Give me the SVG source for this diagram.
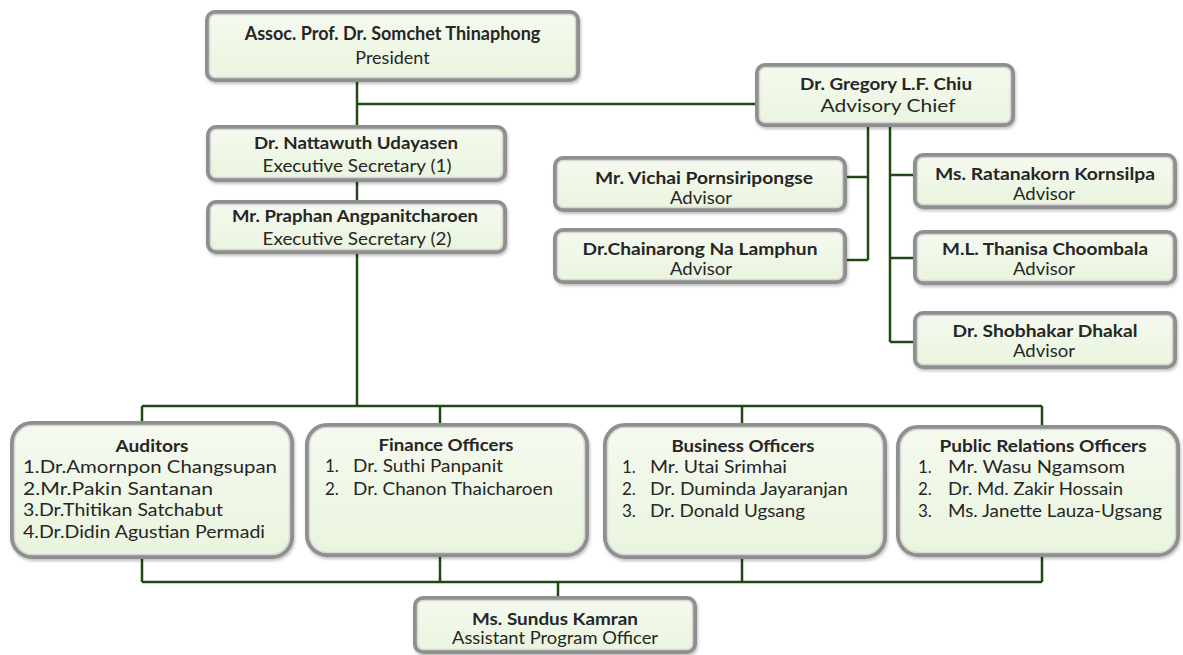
<svg xmlns="http://www.w3.org/2000/svg" width="1183" height="655" viewBox="0 0 1183 655">
<style>
.box{fill:url(#fillg);stroke:#8f8f8f;stroke-width:4;filter:url(#sh)}
.in{fill:none;stroke:#d6d6d6;stroke-width:1.5}
.t{font-family:Lato,"Open Sans","Liberation Sans",sans-serif;font-size:17px;fill:#262626;text-anchor:middle}
.b{font-weight:bold}
.l{text-anchor:start}
.c{stroke:#1f4a16;stroke-width:2.5;fill:none}
</style>
<defs>
<linearGradient id="fillg" x1="0" y1="0" x2="0" y2="1">
<stop offset="0" stop-color="#f5faef"/>
<stop offset="1" stop-color="#e9f4de"/>
</linearGradient>
<filter id="sh" x="-5%" y="-10%" width="110%" height="125%">
<feDropShadow dx="1" dy="2" stdDeviation="1.5" flood-color="#000" flood-opacity="0.25"/>
</filter>
</defs>
<rect width="1183" height="655" fill="#ffffff"/>

<g id="connectors">
<path class="c" d="M357 80V127M357 104H757M357 180V202M357 252V406M142 406H1042M142 406V423M440 406V425M742 406V425M1042 406V427"/>
<path class="c" d="M142 557V582M440 555V582M742 557V582M1042 555V582M142 582H1042M558 582V598"/>
<path class="c" d="M868 125V260M845 177H868M845 260H868M890 125V342M890 175H915M890 258H915M890 342H915"/>
</g>

<g id="president">
<rect class="box" x="207" y="12" width="371" height="68" rx="8"/>
<rect class="in" x="209.5" y="14.5" width="366" height="63" rx="6"/>
<text class="t b" x="392.5" y="40" style="font-size:18px">Assoc. Prof. Dr. Somchet Thinaphong</text>
<text class="t" x="392.5" y="64" style="font-size:18px">President</text>
</g>

<g id="advisory-chief">
<rect class="box" x="757" y="65" width="256" height="60" rx="8"/>
<rect class="in" x="759.5" y="67.5" width="251" height="55" rx="6"/>
<text class="t b" x="886" y="90" textLength="172" lengthAdjust="spacingAndGlyphs">Dr. Gregory L.F. Chiu</text>
<text class="t" x="888" y="112" textLength="135" lengthAdjust="spacingAndGlyphs">Advisory Chief</text>
</g>

<g id="exec-sec-1">
<rect class="box" x="208" y="127" width="297" height="53" rx="8"/>
<rect class="in" x="210.5" y="129.5" width="292" height="48" rx="6"/>
<text class="t b" x="356" y="149" textLength="204" lengthAdjust="spacingAndGlyphs">Dr. Nattawuth Udayasen</text>
<text class="t" x="357" y="172" textLength="189" lengthAdjust="spacingAndGlyphs">Executive Secretary (1)</text>
</g>

<g id="exec-sec-2">
<rect class="box" x="208" y="202" width="297" height="50" rx="8"/>
<rect class="in" x="210.5" y="204.5" width="292" height="45" rx="6"/>
<text class="t b" x="355" y="222" textLength="246" lengthAdjust="spacingAndGlyphs">Mr. Praphan Angpanitcharoen</text>
<text class="t" x="357" y="245" textLength="189" lengthAdjust="spacingAndGlyphs">Executive Secretary (2)</text>
</g>

<g id="advisor-vichai">
<rect class="box" x="555" y="158" width="290" height="52" rx="8"/>
<rect class="in" x="557.5" y="160.5" width="285" height="47" rx="6"/>
<text class="t b" x="704" y="184" textLength="218" lengthAdjust="spacingAndGlyphs">Mr. Vichai Pornsiripongse</text>
<text class="t" x="701" y="204" textLength="62" lengthAdjust="spacingAndGlyphs">Advisor</text>
</g>

<g id="advisor-chainarong">
<rect class="box" x="555" y="230" width="290" height="52" rx="8"/>
<rect class="in" x="557.5" y="232.5" width="285" height="47" rx="6"/>
<text class="t b" x="700" y="255" textLength="235" lengthAdjust="spacingAndGlyphs">Dr.Chainarong Na Lamphun</text>
<text class="t" x="701" y="275" textLength="62" lengthAdjust="spacingAndGlyphs">Advisor</text>
</g>

<g id="advisor-ratanakorn">
<rect class="box" x="915" y="155" width="260" height="52" rx="8"/>
<rect class="in" x="917.5" y="157.5" width="255" height="47" rx="6"/>
<text class="t b" x="1045" y="180" textLength="220" lengthAdjust="spacingAndGlyphs">Ms. Ratanakorn Kornsilpa</text>
<text class="t" x="1044" y="200" textLength="62" lengthAdjust="spacingAndGlyphs">Advisor</text>
</g>

<g id="advisor-thanisa">
<rect class="box" x="915" y="232" width="260" height="51" rx="8"/>
<rect class="in" x="917.5" y="234.5" width="255" height="46" rx="6"/>
<text class="t b" x="1045" y="255" textLength="206" lengthAdjust="spacingAndGlyphs">M.L. Thanisa Choombala</text>
<text class="t" x="1044" y="275" textLength="62" lengthAdjust="spacingAndGlyphs">Advisor</text>
</g>

<g id="advisor-dhakal">
<rect class="box" x="915" y="313" width="260" height="54" rx="8"/>
<rect class="in" x="917.5" y="315.5" width="255" height="49" rx="6"/>
<text class="t b" x="1045" y="337" textLength="185" lengthAdjust="spacingAndGlyphs">Dr. Shobhakar Dhakal</text>
<text class="t" x="1044" y="357" textLength="62" lengthAdjust="spacingAndGlyphs">Advisor</text>
</g>

<g id="auditors">
<rect class="box" x="12" y="423" width="280" height="134" rx="20"/>
<rect class="in" x="14.5" y="425.5" width="275" height="129" rx="18"/>
<text class="t b" x="152" y="452" textLength="73" lengthAdjust="spacingAndGlyphs">Auditors</text>
<text class="t l" x="23" y="473" textLength="254" lengthAdjust="spacingAndGlyphs">1.Dr.Amornpon Changsupan</text>
<text class="t l" x="23" y="494.5" textLength="190" lengthAdjust="spacingAndGlyphs">2.Mr.Pakin  Santanan</text>
<text class="t l" x="23" y="516" textLength="200" lengthAdjust="spacingAndGlyphs">3.Dr.Thitikan Satchabut</text>
<text class="t l" x="23" y="537.5" textLength="242" lengthAdjust="spacingAndGlyphs">4.Dr.Didin Agustian Permadi</text>
</g>

<g id="finance-officers">
<rect class="box" x="307" y="425" width="280" height="130" rx="20"/>
<rect class="in" x="309.5" y="427.5" width="275" height="125" rx="18"/>
<text class="t b" x="446" y="451" textLength="135" lengthAdjust="spacingAndGlyphs">Finance Officers</text>
<text class="t l" x="325" y="472">1.</text>
<text class="t l" x="353" y="472" textLength="150" lengthAdjust="spacingAndGlyphs">Dr. Suthi Panpanit</text>
<text class="t l" x="325" y="495">2.</text>
<text class="t l" x="353" y="495" textLength="200" lengthAdjust="spacingAndGlyphs">Dr. Chanon Thaicharoen</text>
</g>

<g id="business-officers">
<rect class="box" x="605" y="425" width="280" height="132" rx="20"/>
<rect class="in" x="607.5" y="427.5" width="275" height="127" rx="18"/>
<text class="t b" x="743" y="452" textLength="143" lengthAdjust="spacingAndGlyphs">Business Officers</text>
<text class="t l" x="622" y="473">1.</text>
<text class="t l" x="650" y="473" textLength="137" lengthAdjust="spacingAndGlyphs">Mr. Utai Srimhai</text>
<text class="t l" x="622" y="495">2.</text>
<text class="t l" x="650" y="495" textLength="198" lengthAdjust="spacingAndGlyphs">Dr. Duminda Jayaranjan</text>
<text class="t l" x="622" y="517">3.</text>
<text class="t l" x="650" y="517" textLength="155" lengthAdjust="spacingAndGlyphs">Dr. Donald Ugsang</text>
</g>

<g id="pr-officers">
<rect class="box" x="898" y="427" width="280" height="128" rx="20"/>
<rect class="in" x="900.5" y="429.5" width="275" height="123" rx="18"/>
<text class="t b" x="1043" y="452" textLength="207" lengthAdjust="spacingAndGlyphs">Public Relations Officers</text>
<text class="t l" x="918" y="473">1.</text>
<text class="t l" x="948" y="473" textLength="177" lengthAdjust="spacingAndGlyphs">Mr. Wasu Ngamsom</text>
<text class="t l" x="918" y="495">2.</text>
<text class="t l" x="948" y="495" textLength="175" lengthAdjust="spacingAndGlyphs">Dr. Md. Zakir Hossain</text>
<text class="t l" x="918" y="517">3.</text>
<text class="t l" x="948" y="517" textLength="214" lengthAdjust="spacingAndGlyphs">Ms. Janette Lauza-Ugsang</text>
</g>

<g id="assistant-program-officer">
<rect class="box" x="415" y="598" width="280" height="54" rx="8"/>
<rect class="in" x="417.5" y="600.5" width="275" height="49" rx="6"/>
<text class="t b" x="555" y="625" textLength="166" lengthAdjust="spacingAndGlyphs">Ms. Sundus Kamran</text>
<text class="t" x="555" y="644" textLength="206" lengthAdjust="spacingAndGlyphs">Assistant Program Officer</text>
</g>
</svg>
